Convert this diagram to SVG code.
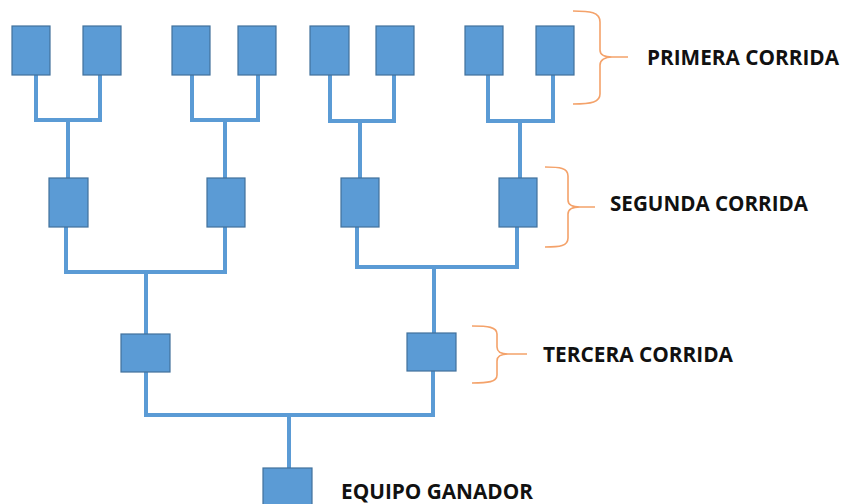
<svg xmlns="http://www.w3.org/2000/svg" width="847" height="504" viewBox="0 0 847 504">
<style>
.box{fill:#5B9BD5;stroke:#41719C;stroke-width:1.2}
.ln{fill:none;stroke:#5B9BD5;stroke-width:4;stroke-linejoin:miter;stroke-linecap:butt}
.br{fill:none;stroke:#F4A26A;stroke-width:1.6}
.lbl{font-family:"Open Sans","Liberation Sans",sans-serif;font-weight:bold;font-size:21px;fill:#111}
</style>
<rect width="847" height="504" fill="#fff"/>
<g id="connectors">
<path class="ln" d="M36 75V120H100V75M68 120V178"/>
<path class="ln" d="M192 75V120H258V75M225 120V178"/>
<path class="ln" d="M330 75V121H394V75M360 121V178"/>
<path class="ln" d="M488 75V121H553V75M520 121V178"/>
<path class="ln" d="M66 227V272H225V227M146 272V334"/>
<path class="ln" d="M357 227V267H517V227M434 267V333"/>
<path class="ln" d="M146 372V415H433V371M289 415V468"/>
</g>
<g id="r1n1"><rect class="box" x="12" y="26" width="38" height="49"/></g>
<g id="r1n2"><rect class="box" x="83" y="26" width="38" height="49"/></g>
<g id="r1n3"><rect class="box" x="172" y="26" width="38" height="49"/></g>
<g id="r1n4"><rect class="box" x="238" y="26" width="38" height="49"/></g>
<g id="r1n5"><rect class="box" x="310" y="26" width="39" height="49"/></g>
<g id="r1n6"><rect class="box" x="376" y="26" width="38" height="49"/></g>
<g id="r1n7"><rect class="box" x="465" y="26" width="38" height="49"/></g>
<g id="r1n8"><rect class="box" x="536" y="26" width="38" height="49"/></g>
<g id="r2n1"><rect class="box" x="49" y="178" width="39" height="49"/></g>
<g id="r2n2"><rect class="box" x="207" y="178" width="38" height="49"/></g>
<g id="r2n3"><rect class="box" x="341" y="178" width="38" height="49"/></g>
<g id="r2n4"><rect class="box" x="499" y="178" width="38" height="49"/></g>
<g id="r3n1"><rect class="box" x="121" y="334" width="49" height="38"/></g>
<g id="r3n2"><rect class="box" x="407" y="333" width="49" height="38"/></g>
<g id="winner"><rect class="box" x="263" y="468" width="49" height="40"/></g>
<g id="primera">
<path class="br" d="M573 11C590 11 600 12 600 22V50C600 55 605 57 612 57H628M612 57C605 57 600 60 600 65V94C600 102 592 104 573 104"/>
<text class="lbl" x="647" y="65" textLength="192" lengthAdjust="spacingAndGlyphs">PRIMERA CORRIDA</text>
</g>
<g id="segunda">
<path class="br" d="M545 167C560 167 568 168 568 176V200C568 205 572 207 580 207H595M580 207C572 207 568 209 568 214V238C568 246 560 247 545 247"/>
<text class="lbl" x="610" y="211" textLength="198" lengthAdjust="spacingAndGlyphs">SEGUNDA CORRIDA</text>
</g>
<g id="tercera">
<path class="br" d="M472 326C488 326 497 327 497 334V347C497 352 501 354 508 354H527M508 354C501 354 497 356 497 361V375C497 382 488 383 472 383"/>
<text class="lbl" x="543" y="362" textLength="190" lengthAdjust="spacingAndGlyphs">TERCERA CORRIDA</text>
</g>
<g id="ganador">
<text class="lbl" x="341" y="499" textLength="192" lengthAdjust="spacingAndGlyphs">EQUIPO GANADOR</text>
</g>
</svg>
